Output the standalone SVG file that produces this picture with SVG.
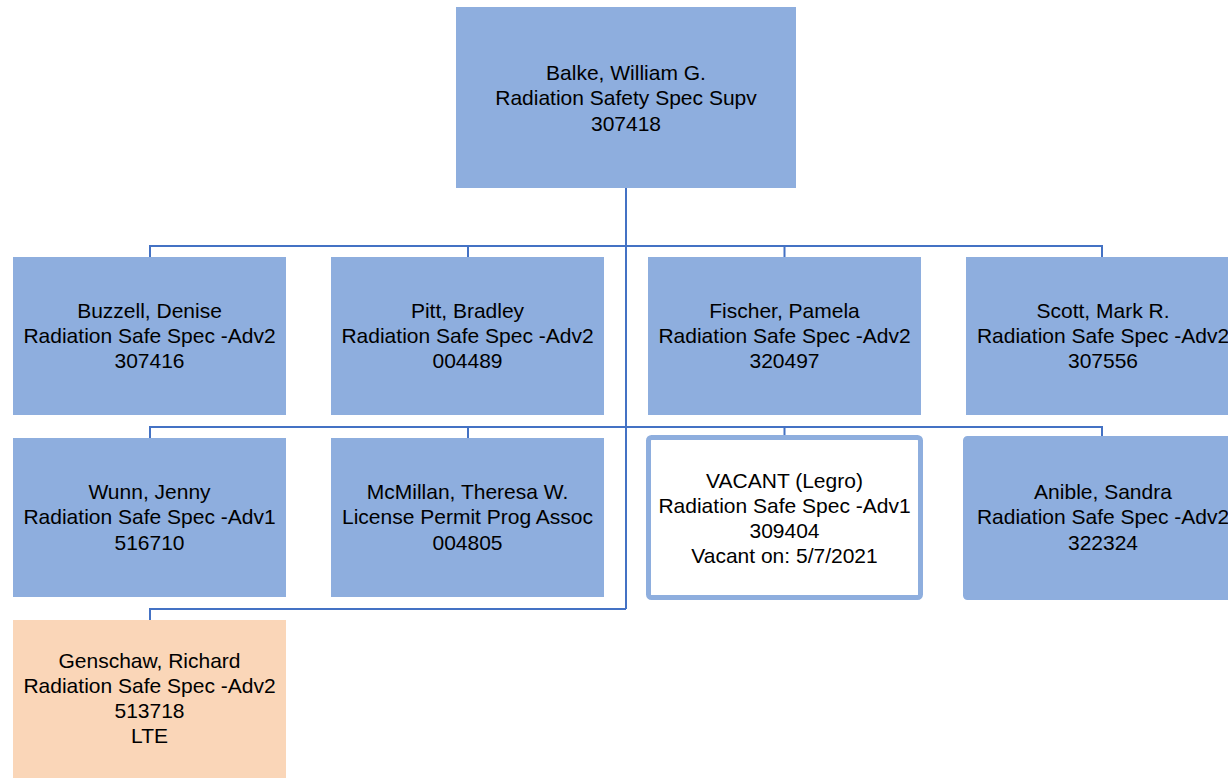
<svg xmlns="http://www.w3.org/2000/svg" width="1228" height="780" viewBox="0 0 1228 780">
<style>
.box{fill:#8EAEDE}
.lte{fill:#FAD6B8}
.vac{fill:#FFFFFF;stroke:#8EAEDE;stroke-width:5}
.rnd{fill:#8EAEDE;stroke:#8EAEDE;stroke-width:3}
text{font-family:"Liberation Sans",Arial,sans-serif;font-size:21px;fill:#000;text-anchor:middle}
.con{fill:none;stroke:#4472C4;stroke-width:2}
</style>
<rect width="1228" height="780" fill="#FFFFFF"/>
<g id="connectors">
<path class="con" d="M626 188V609"/>
<path class="con" d="M150 257V246H1102V257M468 246V257M784.5 246V257"/>
<path class="con" d="M150 438V427H1102V438M468 427V438M784.5 427V438"/>
<path class="con" d="M150 620V609H626"/>
</g>
<g id="balke">
<rect class="box" x="456" y="7" width="340" height="181"/>
<text x="626" y="80">Balke, William G.</text>
<text x="626" y="105">Radiation Safety Spec Supv</text>
<text x="626" y="131">307418</text>
</g>
<g id="buzzell">
<rect class="box" x="13" y="257" width="273" height="158"/>
<text x="149.5" y="318">Buzzell, Denise</text>
<text x="149.5" y="343">Radiation Safe Spec -Adv2</text>
<text x="149.5" y="368">307416</text>
</g>
<g id="pitt">
<rect class="box" x="331" y="257" width="273" height="158"/>
<text x="467.5" y="318">Pitt, Bradley</text>
<text x="467.5" y="343">Radiation Safe Spec -Adv2</text>
<text x="467.5" y="368">004489</text>
</g>
<g id="fischer">
<rect class="box" x="648" y="257" width="273" height="158"/>
<text x="784.5" y="318">Fischer, Pamela</text>
<text x="784.5" y="343">Radiation Safe Spec -Adv2</text>
<text x="784.5" y="368">320497</text>
</g>
<g id="scott">
<rect class="box" x="966" y="257" width="274" height="158"/>
<text x="1103" y="318">Scott, Mark R.</text>
<text x="1103" y="343">Radiation Safe Spec -Adv2</text>
<text x="1103" y="368">307556</text>
</g>
<g id="wunn">
<rect class="box" x="13" y="438" width="273" height="159"/>
<text x="149.5" y="499">Wunn, Jenny</text>
<text x="149.5" y="524">Radiation Safe Spec -Adv1</text>
<text x="149.5" y="550">516710</text>
</g>
<g id="mcmillan">
<rect class="box" x="331" y="438" width="273" height="159"/>
<text x="467.5" y="499">McMillan, Theresa W.</text>
<text x="467.5" y="524">License Permit Prog Assoc</text>
<text x="467.5" y="550">004805</text>
</g>
<g id="vacant">
<rect class="vac" x="648.5" y="437.5" width="272" height="160" rx="3"/>
<text x="784.5" y="488">VACANT (Legro)</text>
<text x="784.5" y="513">Radiation Safe Spec -Adv1</text>
<text x="784.5" y="538">309404</text>
<text x="784.5" y="563">Vacant on: 5/7/2021</text>
</g>
<g id="anible">
<rect class="rnd" x="964.5" y="437.5" width="277" height="161" rx="3"/>
<text x="1103" y="499">Anible, Sandra</text>
<text x="1103" y="524">Radiation Safe Spec -Adv2</text>
<text x="1103" y="550">322324</text>
</g>
<g id="genschaw">
<rect class="lte" x="13" y="620" width="273" height="158"/>
<text x="149.5" y="668">Genschaw, Richard</text>
<text x="149.5" y="693">Radiation Safe Spec -Adv2</text>
<text x="149.5" y="718">513718</text>
<text x="149.5" y="743">LTE</text>
</g>
</svg>
